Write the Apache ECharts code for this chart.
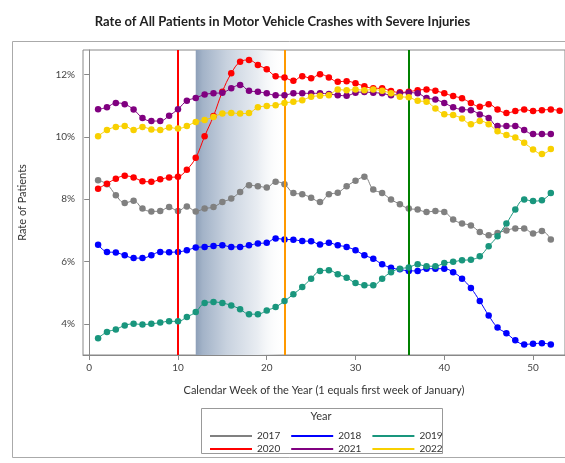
<!DOCTYPE html>
<html><head><meta charset="utf-8">
<script src="https://cdn.jsdelivr.net/npm/echarts@6/dist/echarts.min.js"></script>
<style>html,body{margin:0;padding:0;background:#fff}#c{width:565px;height:463px}</style>
</head><body><div id="c"></div>
<script>
const years = ['2017','2018','2019','2020','2021','2022'];
const colors = ['#808080','#0000ff','#19967d','#ff0000','#800080','#f8d000'];
const xTicks = [0,10,20,30,40,50];
const yTicks = [4,6,8,10,12];
const v2017 = [8.61,8.48,8.13,7.88,7.95,7.70,7.61,7.62,7.75,7.62,7.77,7.61,7.70,7.75,7.91,8.02,8.23,8.45,8.42,8.38,8.56,8.48,8.20,8.16,8.05,7.91,8.16,8.21,8.42,8.59,8.72,8.31,8.20,7.99,7.84,7.70,7.67,7.59,7.62,7.59,7.35,7.22,7.16,6.95,6.84,6.92,7.00,7.06,7.06,6.90,6.98,6.71];
const v2018 = [6.54,6.31,6.29,6.20,6.11,6.11,6.20,6.31,6.30,6.31,6.36,6.45,6.47,6.50,6.52,6.47,6.47,6.52,6.58,6.60,6.74,6.71,6.70,6.66,6.65,6.55,6.60,6.52,6.47,6.36,6.20,6.09,5.91,5.80,5.75,5.70,5.70,5.77,5.77,5.77,5.66,5.45,5.15,4.73,4.27,3.88,3.70,3.47,3.34,3.36,3.38,3.34];
const v2019 = [3.54,3.74,3.82,3.95,4.00,3.98,4.00,4.04,4.08,4.08,4.22,4.38,4.67,4.70,4.67,4.59,4.47,4.31,4.31,4.43,4.54,4.73,4.95,5.18,5.45,5.70,5.72,5.59,5.48,5.31,5.24,5.24,5.45,5.66,5.77,5.81,5.91,5.85,5.85,5.95,5.99,6.04,6.06,6.17,6.49,6.81,7.22,7.67,7.99,7.94,7.97,8.20];
const v2020 = [8.34,8.50,8.66,8.75,8.70,8.58,8.56,8.64,8.70,8.72,8.95,9.33,10.02,10.67,11.45,12.04,12.41,12.47,12.31,12.17,11.95,11.91,11.80,11.95,11.88,12.01,11.91,11.77,11.79,11.72,11.63,11.56,11.56,11.47,11.43,11.45,11.50,11.52,11.48,11.40,11.31,11.24,11.09,10.97,11.05,10.88,10.77,10.83,10.88,10.83,10.86,10.88,10.84];
const v2021 = [10.89,10.95,11.09,11.05,10.88,10.61,10.51,10.51,10.68,10.89,11.16,11.25,11.36,11.40,11.42,11.56,11.67,11.48,11.45,11.40,11.34,11.34,11.40,11.40,11.40,11.40,11.38,11.34,11.32,11.42,11.44,11.42,11.40,11.34,11.40,11.42,11.40,11.25,11.20,11.09,10.95,10.88,10.86,10.72,10.61,10.35,10.35,10.35,10.22,10.09,10.09,10.09];
const v2022 = [10.02,10.22,10.32,10.35,10.22,10.32,10.24,10.22,10.30,10.27,10.35,10.48,10.54,10.64,10.75,10.77,10.75,10.77,10.95,10.99,11.02,11.09,11.13,11.18,11.29,11.32,11.34,11.52,11.50,11.52,11.50,11.52,11.48,11.40,11.29,11.27,11.16,11.13,10.91,10.73,10.70,10.59,10.41,10.51,10.41,10.18,10.06,9.98,9.81,9.60,9.45,9.61];
const refLines = [{week:10,color:'#ff0000'},{week:22,color:'#ff9900'},{week:36,color:'#008000'}];
const bandWeeks = [12,22];

const allVals = [v2017,v2018,v2019,v2020,v2021,v2022];
const font = 'Lato, "DejaVu Sans", sans-serif';
const series = allVals.map((vals,i)=>({
  name: years[i], type:'line', smooth:0.4,
  data: vals.map((v,k)=>[k+1,v]),
  symbol:'circle', symbolSize:6.5,
  itemStyle:{color:colors[i]},
  lineStyle:{color:colors[i],width:1},
  z: 3+i, animation:false
}));
series.unshift({
  type:'line', data:[], z:1, silent:true, animation:false,
  markArea:{silent:true, itemStyle:{color:{type:'linear',x:0,y:0,x2:1,y2:0,colorStops:[
    {offset:0,color:'#8d9fb8'},{offset:0.08,color:'#a3b3c8'},{offset:0.35,color:'#c8d2df'},{offset:0.7,color:'#e9edf2'},{offset:1,color:'rgba(255,255,255,0)'}]}},
    data:[[{xAxis:bandWeeks[0]},{xAxis:bandWeeks[1]}]]},
  markLine:{silent:true, symbol:'none', label:{show:false}, animation:false,
    data: refLines.map(r=>({xAxis:r.week, lineStyle:{color:r.color,width:2,type:'solid'}}))}
});

const chart = echarts.init(document.getElementById('c'));
chart.setOption({
  backgroundColor:'#fff',
  animation:false,
  title:{text:'Rate of All Patients in Motor Vehicle Crashes with Severe Injuries', left:'center', top:10,
    textStyle:{fontFamily:font,fontSize:13,fontWeight:'bold',color:'#222'}},
  grid:{left:83, top:50, right:0, bottom:108, show:true, borderColor:'#888', borderWidth:1},
  xAxis:{type:'value', min:-0.7, max:53.6,
    name:'Calendar Week of the Year (1 equals first week of January)', nameLocation:'middle', nameGap:30,
    nameTextStyle:{fontFamily:font,fontSize:11,color:'#333'},
    axisLine:{show:true,lineStyle:{color:'#888'}}, splitLine:{show:false},
    axisTick:{show:true, customValues:xTicks, length:5, lineStyle:{color:'#888'}},
    axisLabel:{customValues:xTicks, fontFamily:font,fontSize:10,color:'#444', margin:8}},
  yAxis:{type:'value', min:3, max:12.79,
    name:'Rate of Patients', nameLocation:'middle', nameGap:55,
    nameTextStyle:{fontFamily:font,fontSize:11,color:'#333'},
    axisLine:{show:true,lineStyle:{color:'#888'}}, splitLine:{show:false},
    axisTick:{show:true, customValues:yTicks, length:5, lineStyle:{color:'#888'}},
    axisLabel:{customValues:yTicks, formatter:'{value}%', fontFamily:font,fontSize:10,color:'#444', margin:8}},
  legend:[
    {data:years.slice(0,3), left:205, top:426, itemWidth:42, itemHeight:2, itemGap:11, icon:'rect',
      textStyle:{fontFamily:font,fontSize:10,color:'#333'}},
    {data:years.slice(3), left:205, top:439, itemWidth:42, itemHeight:2, itemGap:11, icon:'rect',
      textStyle:{fontFamily:font,fontSize:10,color:'#333'}}
  ],
  graphic:[
    {type:'rect', shape:{x:12.5,y:41.5,width:600,height:416}, style:{fill:'none',stroke:'#aaa',lineWidth:1}, silent:true, z:-1},
    {type:'rect', shape:{x:201.5,y:408.5,width:241,height:45}, style:{fill:'none',stroke:'#999',lineWidth:1}, silent:true},
    {type:'text', x:321, y:411, style:{text:'Year', fontFamily:font, fontSize:11, fill:'#333', textAlign:'center'}, silent:true}
  ],
  series: series
});
</script></body></html>
